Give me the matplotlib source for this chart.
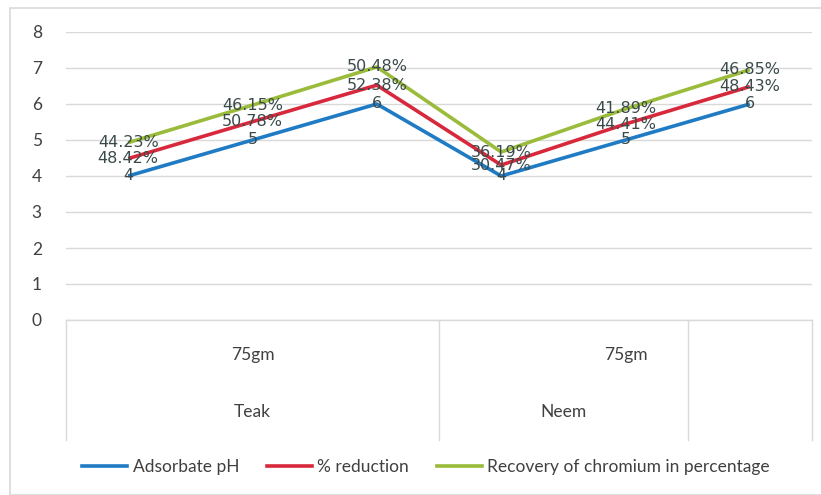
import matplotlib.pyplot as plt
from matplotlib.lines import Line2D
from matplotlib.patches import Rectangle

# categories (two levels of grouping under each point)
points = ["4", "5", "6", "4", "5", "6"]
dose_labels = ["75gm", "75gm"]
dose_spans = [(0, 2), (3, 5)]
wood_labels = ["Teak", "Neem", ""]
wood_spans = [(0, 2), (3, 4), (5, 5)]

# series values
adsorbate_ph = [4, 5, 6, 4, 5, 6]
pct_reduction = [48.42, 50.78, 52.38, 30.47, 44.41, 48.43]
pct_recovery = [44.23, 46.15, 50.48, 36.19, 41.89, 46.85]

series_names = ["Adsorbate pH", "% reduction", "Recovery of chromium in percentage"]
colors = ["#1f7bc4", "#d8283c", "#9bbb3a"]

W, H = 821, 495
fig = plt.figure(figsize=(W / 100, H / 100), dpi=100)
fig.patches.append(Rectangle((10 / W, 0), 1.2, 1 - 8 / H, transform=fig.transFigure,
                             fill=False, edgecolor="#d9d9d9", lw=1.2))

ax = fig.add_axes([66 / W, 1 - 320 / H, (812 - 66) / W, (320 - 32) / H])

x = list(range(len(points)))
# stacked line: each series sits on top of the previous one
red_y = [p + r / 100 for p, r in zip(adsorbate_ph, pct_reduction)]
green_y = [r + g / 100 for r, g in zip(red_y, pct_recovery)]

lab_font = dict(family="DejaVu Sans", fontsize=11.5, color="#3a4a4a")
for ys, c in zip([adsorbate_ph, red_y, green_y], colors):
    ax.plot(x, ys, color=c, lw=2.6, solid_capstyle="butt", zorder=3)

for xi, ys, v in zip(x, adsorbate_ph, adsorbate_ph):
    ax.text(xi, ys, f"{v}", ha="center", va="center", zorder=4, **lab_font)
for xi, ys, v in zip(x, red_y, pct_reduction):
    ax.text(xi, ys, f"{v:.2f}%", ha="center", va="center", zorder=4, **lab_font)
for xi, ys, v in zip(x, green_y, pct_recovery):
    ax.text(xi, ys, f"{v:.2f}%", ha="center", va="center", zorder=4, **lab_font)

ax.set_xlim(-0.5, len(points) - 0.5)
ax.set_ylim(0, 8)
ax.set_yticks(range(0, 9))
ax.yaxis.grid(True, color="#d9d9d9", lw=1)
ax.set_axisbelow(True)
ax.set_xticks([])
ax.tick_params(axis="y", length=0, pad=21, labelsize=12.5, labelcolor="#404040")
for lbl in ax.get_yticklabels():
    lbl.set_family("Lato")
    lbl.set_horizontalalignment("center")
for s in ax.spines.values():
    s.set_visible(False)

# category axis box with grouping separators
tr = ax.get_xaxis_transform()
bottom = -(440 - 320) / 288
ax.plot([-0.5, 5.5], [0, 0], color="#d9d9d9", lw=1, transform=tr, clip_on=False)
for sx in [-0.5, 2.5, 4.5, 5.5]:
    ax.plot([sx, sx], [0, bottom], color="#d9d9d9", lw=1, transform=tr, clip_on=False)

cat_font = dict(family="Lato", fontsize=12.5, color="#404040")
for lbl, (a, b) in zip(dose_labels, dose_spans):
    ax.text((a + b) / 2, -35 / 288, lbl, ha="center", va="center", transform=tr, **cat_font)
for lbl, (a, b) in zip(wood_labels, wood_spans):
    ax.text((a + b) / 2, -92 / 288, lbl, ha="center", va="center", transform=tr, **cat_font)

handles = [Line2D([], [], color=c, lw=2.6) for c in colors]
fig.legend(handles, series_names, loc="center", bbox_to_anchor=(426 / W, 1 - 467 / H),
           ncol=3, frameon=False, prop={"family": "Lato", "size": 12.5},
           labelcolor="#404040", handlelength=2.6, handletextpad=0.3, columnspacing=1.6)

fig.savefig("out.png", dpi=100)
